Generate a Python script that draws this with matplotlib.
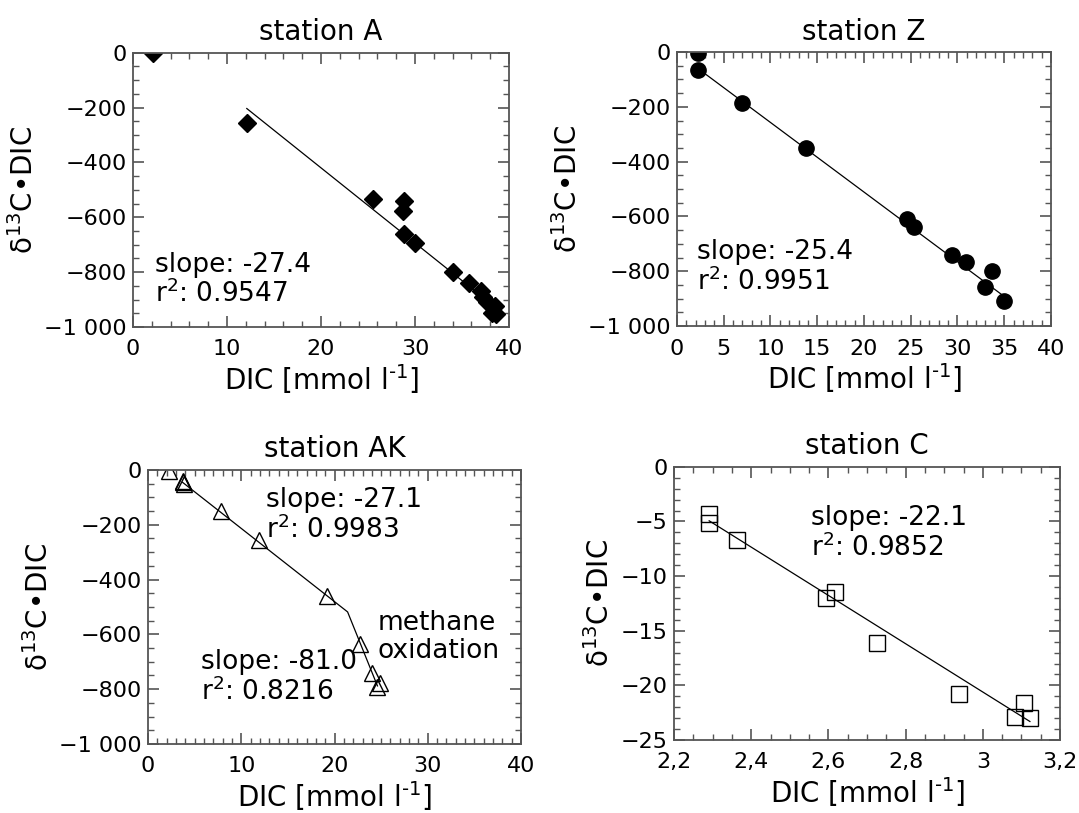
import matplotlib
matplotlib.use('Agg')
import matplotlib.pyplot as plt
from matplotlib.ticker import MultipleLocator, FuncFormatter
import numpy as np

plt.rcParams['font.family'] = ['DejaVu Sans']

# ── station A ──
a_x = [2.1, 12.1, 25.5, 28.8, 28.7, 28.8, 30.0, 34.0, 35.7, 37.0, 37.2, 37.7, 38.5, 38.2, 38.6]
a_y = [-2, -258, -534, -541, -577, -660, -695, -801, -839, -869, -890, -908, -924, -948, -953]
a_fit_x = [12.1, 38.5]
a_slope, a_icpt = -27.4, 128
a_r2 = 0.9547

# ── station Z ──
z_x = [2.3, 2.3, 7.0, 13.8, 24.6, 25.3, 29.4, 30.9, 33.7, 33.0, 35.0]
z_y = [-3, -67, -185, -349, -610, -638, -741, -768, -800, -859, -907]
z_fit_x = [2.3, 35.0]
z_slope, z_icpt = -25.4, -3
z_r2 = 0.9951

# ── station AK ──
ak_x = [2.3, 3.7, 3.75, 3.85, 7.8, 11.9, 19.2, 22.7, 24.0, 24.9, 24.5]
ak_y = [-5, -39, -45, -51, -148, -257, -461, -634, -742, -776, -793]
ak_line_x = [3.7, 21.4, 24.6]
ak_line_y = [-45, -518, -788]
ak_slopes = [-27.1, -81.0]
ak_r2 = [0.9983, 0.8216]

# ── station C ──
c_x = [2.291, 2.291, 2.362, 2.594, 2.616, 2.725, 2.938, 3.107, 3.083, 3.122]
c_y = [-4.3, -5.15, -6.7, -12.0, -11.5, -16.1, -20.8, -21.6, -22.9, -23.0]
c_fit_x = [2.291, 3.122]
c_slope, c_icpt = -22.1, 45.69
c_r2 = 0.9852

SPINE = '#555555'
TICK_FS, LABEL_FS, NOTE_FS = 16, 20, 19


def thousands(v, pos):
    s = f'{abs(v):,.0f}'.replace(',', ' ')
    return ('\u2212' + s) if v < 0 else s


def comma(v, pos):
    s = f'{abs(v):g}'.replace('.', ',')
    return ('\u2212' + s) if v < 0 else s


def style(ax, title, xmaj, xmin, ymaj, ymin, xfmt, yfmt):
    ax.set_title(title, fontsize=LABEL_FS, pad=9)
    ax.xaxis.set_major_locator(MultipleLocator(xmaj))
    ax.xaxis.set_minor_locator(MultipleLocator(xmin))
    ax.yaxis.set_major_locator(MultipleLocator(ymaj))
    ax.yaxis.set_minor_locator(MultipleLocator(ymin))
    ax.xaxis.set_major_formatter(FuncFormatter(xfmt))
    ax.yaxis.set_major_formatter(FuncFormatter(yfmt))
    ax.tick_params(which='both', direction='in', top=True, right=True,
                   color=SPINE, labelsize=TICK_FS)
    ax.tick_params(axis='x', which='major', pad=9)
    ax.tick_params(axis='y', which='major', pad=4.5)
    ax.tick_params(which='major', length=8, width=1.2)
    ax.tick_params(which='minor', length=4, width=1.0)
    for sp in ax.spines.values():
        sp.set_color(SPINE)
        sp.set_linewidth(1.3)
    ax.set_xlabel('DIC [mmol l$^{\\text{-1}}$]', fontsize=LABEL_FS, labelpad=2)
    ax.set_ylabel('\u03b4$^{\\mathregular{13}}$C\u2022DIC', fontsize=LABEL_FS, labelpad=4)


def note(ax, x, y, s):
    ax.text(x, y, s, fontsize=NOTE_FS, va='top', linespacing=1.1)


fig = plt.figure(figsize=(10.79, 8.13), dpi=100)

# station A
ax = fig.add_axes([0.1233, 0.5978, 0.3485, 0.3374])
fx = np.array(a_fit_x)
ax.plot(fx, a_slope * fx + a_icpt, color='black', lw=0.9)
ax.plot(a_x, a_y, 'D', color='black', ms=9.5, ls='none')
ax.set_xlim(0, 40)
ax.set_ylim(-1000, 0)
style(ax, 'station A', 10, 2, 200, 50, thousands, thousands)
note(ax, 2.3, -725, f'slope: {a_slope}\nr$^2$: {a_r2}')

# station Z
ax = fig.add_axes([0.6274, 0.599, 0.3466, 0.337])
fx = np.array(z_fit_x)
ax.plot(fx, z_slope * fx + z_icpt, color='black', lw=0.9)
ax.plot(z_x, z_y, 'o', color='black', ms=11, ls='none')
ax.set_xlim(0, 40)
ax.set_ylim(-1000, 0)
style(ax, 'station Z', 5, 1, 200, 50, thousands, thousands)
note(ax, 2.1, -682, f'slope: {z_slope}\nr$^2$: {z_r2}')

# station AK
ax = fig.add_axes([0.1372, 0.0849, 0.3457, 0.337])
ax.plot(ak_line_x, ak_line_y, color='black', lw=0.9)
ax.plot(ak_x, ak_y, '^', mfc='none', mec='black', mew=1.0, ms=11, ls='none')
ax.set_xlim(0, 40)
ax.set_ylim(-1000, 0)
style(ax, 'station AK', 10, 1, 200, 50, thousands, thousands)
note(ax, 12.6, -62, f'slope: {ak_slopes[0]}\nr$^2$: {ak_r2[0]}')
note(ax, 5.7, -655, f'slope: {ak_slopes[1]}\nr$^2$: {ak_r2[1]}')
note(ax, 24.6, -512, 'methane\noxidation')

# station C
ax = fig.add_axes([0.6247, 0.0898, 0.3577, 0.336])
fx = np.array(c_fit_x)
ax.plot(fx, c_slope * fx + c_icpt, color='black', lw=0.9)
ax.plot(c_x, c_y, 's', mfc='none', mec='black', mew=1.0, ms=11, ls='none')
ax.set_xlim(2.2, 3.2)
ax.set_ylim(-25, 0)
style(ax, 'station C', 0.2, 0.05, 5, 1, comma, comma)
note(ax, 2.555, -3.5, f'slope: {c_slope}\nr$^2$: {c_r2}')

fig.savefig('out.png', dpi=100)
